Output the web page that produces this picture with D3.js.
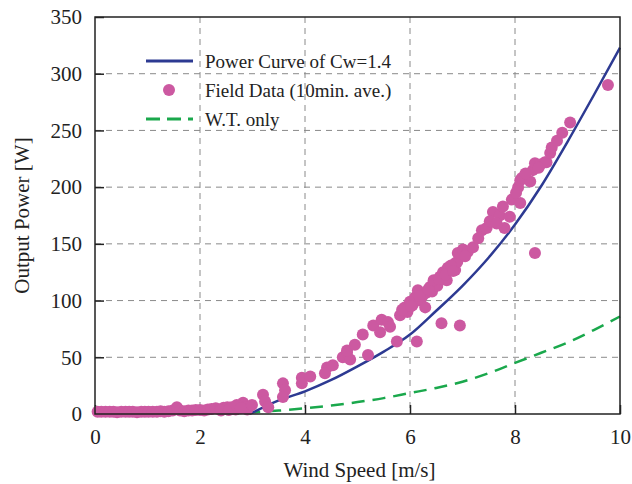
<!DOCTYPE html>
<html>
<head>
<meta charset="utf-8">
<script src="https://cdn.jsdelivr.net/npm/d3@7"></script>
<style>
  body { margin: 0; background: #fff; }
  svg text { font-family: "Liberation Serif", "DejaVu Serif", serif; fill: #222; }
</style>
</head>
<body>
<div id="chart"></div>
<script>
// values

var xTicks = [0, 2, 4, 6, 8, 10],
    yTicks = [0, 50, 100, 150, 200, 250, 300, 350];

// power curve of Cw=1.4 (wind speed, W)
var curveSpeed = [2.95, 3.5, 4, 4.5, 5, 5.5, 6, 6.5, 7, 7.5, 8, 8.5, 9, 9.5, 10],
    curvePower = [0, 12, 20, 30, 42, 55, 70, 91, 113, 138, 167, 201, 240, 281, 323];

// wind turbine only
var wtSpeed = [2.5, 3, 3.5, 4, 4.5, 5, 5.5, 6, 6.5, 7, 7.5, 8, 8.5, 9, 9.5, 10],
    wtPower = [0, 1.5, 3, 5, 7.5, 10.5, 14, 18.5, 23, 28.5, 36, 45, 54, 63, 74, 86];

// field data, 10 min. averages
var fieldSpeed = [0.05, 0.12, 0.2, 0.28, 0.35, 0.42, 0.5, 0.58, 0.65, 0.72, 0.8, 0.88, 0.95, 1.02,
    1.1, 1.18, 1.25, 1.32, 1.4, 1.48, 1.56, 1.62, 1.7, 1.78, 1.85, 1.92, 2.0, 2.08, 2.15, 2.22,
    2.3, 2.38, 2.45, 2.52, 2.6, 2.68, 2.75, 2.82, 2.85, 2.9, 2.4, 2.55, 2.7, 2.78,
    2.99, 3.2, 3.24, 3.3, 3.58, 3.62, 3.58, 3.94, 4.1, 3.94, 4.42, 4.38, 4.53, 4.72, 4.8, 4.86,
    4.8, 4.95, 5.1, 5.2, 5.3, 5.43, 5.46, 5.58, 5.62, 5.75, 5.81, 5.9, 5.95, 6.0, 6.05, 6.1,
    6.13, 6.15, 6.2, 6.25, 6.29, 6.32, 6.38, 6.42, 6.48, 6.52, 6.57, 6.6, 6.63, 6.7, 6.72, 6.86,
    6.86, 6.9, 6.91, 6.95, 7.01, 7.1, 7.2, 7.37, 7.46, 7.58, 7.71, 7.77, 7.8, 7.9, 7.94, 8.06,
    8.1, 8.1, 8.13, 8.29, 8.34, 8.38, 8.38, 8.48, 8.57, 8.6, 8.67, 8.7, 8.8, 8.9, 9.05, 9.77,
    5.85, 6.02, 6.18, 6.35, 6.45, 6.55, 6.68, 6.78, 6.82, 7.05, 7.3, 7.52, 7.65, 8.02, 8.2, 8.45],
    fieldPower = [2, 2, 2, 2, 2, 1.5, 2, 2, 2, 2, 1.5, 2, 2, 2,
    2, 2, 2.5, 2, 2.5, 3, 6, 3, 2.5, 3, 3, 3.5, 3.5, 3, 4, 4.5,
    5, 4, 5.5, 6, 6, 4, 7, 10, 6, 4, 3, 3.5, 8, 5,
    8, 17, 11, 6, 27, 21, 15, 32, 33, 27, 41, 36, 43, 50, 54, 48,
    56, 61, 70, 52, 78, 72, 83, 81, 77, 64, 87, 94, 90, 99, 96, 103,
    64, 109, 100, 105, 94, 107, 112, 108, 116, 113, 121, 80, 125, 118, 129, 127,
    133, 134, 142, 78, 145, 143, 147, 162, 164, 178, 175, 183, 164, 174, 189, 200,
    186, 206, 208, 205, 215, 142, 221, 220, 222, 222, 230, 235, 241, 248, 257, 290,
    92, 95, 104, 110, 118, 119, 123, 131, 126, 139, 155, 170, 168, 195, 212, 217];

var blue = "#2d3a92", pink = "#cc59a1", green = "#1aa84c";

var W = 632, H = 484,
    margin = {top: 17, right: 12, bottom: 70, left: 95},
    width = W - margin.left - margin.right,
    height = H - margin.top - margin.bottom;

var svg = d3.select("#chart").append("svg")
    .attr("width", W)
    .attr("height", H);

var g = svg.append("g")
    .attr("transform", "translate(" + margin.left + "," + margin.top + ")");

var x = d3.scaleLinear().domain([0, 10]).range([0, width]),
    y = d3.scaleLinear().domain([0, 350]).range([height, 0]);

// grid
g.selectAll(".vgrid").data(xTicks.slice(1, -1)).enter().append("line")
    .attr("x1", d => x(d)).attr("x2", d => x(d))
    .attr("y1", 0).attr("y2", height)
    .attr("stroke", "#8a8a8a").attr("stroke-width", 1)
    .attr("stroke-dasharray", "6,5");
g.selectAll(".hgrid").data(yTicks.slice(1, -1)).enter().append("line")
    .attr("x1", 0).attr("x2", width)
    .attr("y1", d => y(d)).attr("y2", d => y(d))
    .attr("stroke", "#8a8a8a").attr("stroke-width", 1)
    .attr("stroke-dasharray", "6,5");

// axes with inward ticks
var xAxis = g.append("g")
    .attr("transform", "translate(0," + height + ")")
    .call(d3.axisBottom(x).tickValues(xTicks).tickSize(-9).tickPadding(13));
var yAxis = g.append("g")
    .call(d3.axisLeft(y).tickValues(yTicks).tickSize(-9).tickPadding(13));
[xAxis, yAxis].forEach(function(a) {
  a.select(".domain").remove();
  a.selectAll(".tick line").attr("stroke", "#222").attr("stroke-width", 1.5);
  a.selectAll(".tick text").style("font-size", "21px")
    .style("font-family", "Liberation Serif, serif").attr("fill", "#222");
});
xAxis.selectAll(".tick text").attr("dy", "0.8em");

// lines
var curveLine = d3.line().x(d => x(d[0])).y(d => y(d[1])).curve(d3.curveMonotoneX);

g.append("path")
    .attr("d", curveLine(d3.zip(wtSpeed, wtPower)))
    .attr("fill", "none").attr("stroke", green).attr("stroke-width", 2.5)
    .attr("stroke-dasharray", "13,8");

g.append("path")
    .attr("d", curveLine(d3.zip(curveSpeed, curvePower)))
    .attr("fill", "none").attr("stroke", blue).attr("stroke-width", 2.5);

// field data dots
g.selectAll(".dot").data(d3.zip(fieldSpeed, fieldPower)).enter().append("circle")
    .attr("cx", d => x(d[0])).attr("cy", d => y(d[1]))
    .attr("r", 6).attr("fill", pink);

// frame
g.append("rect")
    .attr("width", width).attr("height", height)
    .attr("fill", "none").attr("stroke", "#222").attr("stroke-width", 1.5);

// legend
var legend = g.append("g").attr("transform", "translate(51,44)");
var items = ["Power Curve of Cw=1.4", "Field Data (10min. ave.)", "W.T. only"];
items.forEach(function(t, i) {
  var row = legend.append("g").attr("transform", "translate(0," + (i * 29) + ")");
  if (i === 0) {
    row.append("line").attr("x1", 0).attr("x2", 47)
      .attr("stroke", blue).attr("stroke-width", 3);
  } else if (i === 1) {
    row.append("circle").attr("cx", 23).attr("r", 6).attr("fill", pink);
  } else {
    row.append("line").attr("x1", 0).attr("x2", 47)
      .attr("stroke", green).attr("stroke-width", 3).attr("stroke-dasharray", "14,7");
  }
  row.append("text").attr("x", 59).attr("dy", "0.35em")
    .style("font-size", "19px").text(t);
});

// axis titles
svg.append("text")
    .attr("x", margin.left + width / 2 + 2).attr("y", 477)
    .attr("text-anchor", "middle").style("font-size", "21px")
    .text("Wind Speed [m/s]");
svg.append("text")
    .attr("transform", "translate(29," + (margin.top + height / 2) + ") rotate(-90)")
    .attr("text-anchor", "middle").style("font-size", "21px")
    .text("Output Power [W]");
</script>
</body>
</html>
